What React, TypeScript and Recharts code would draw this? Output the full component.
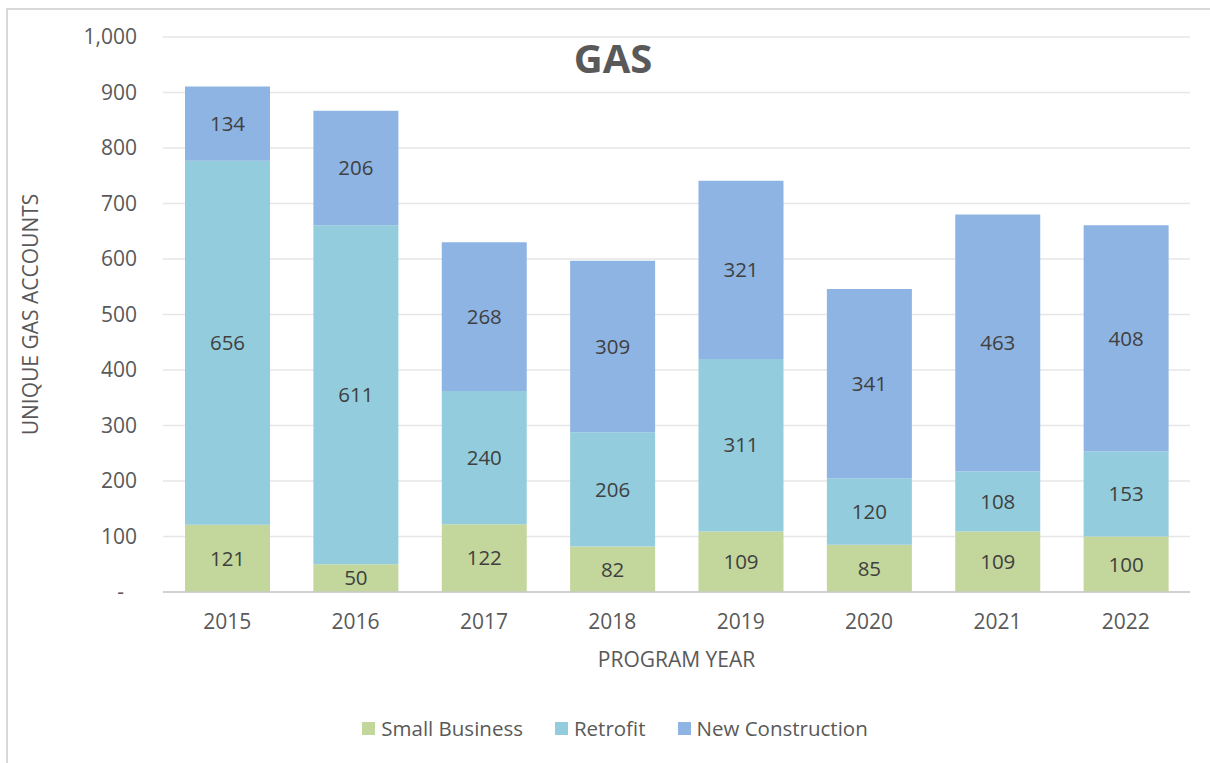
import {
  BarChart,
  Bar,
  XAxis,
  YAxis,
  CartesianGrid,
  LabelList,
  Legend
} from "recharts"

const years = ["2015", "2016", "2017", "2018", "2019", "2020", "2021", "2022"]
const smallBusiness = [121, 50, 122, 82, 109, 85, 109, 100]
const retrofit = [656, 611, 240, 206, 311, 120, 108, 153]
const newConstruction = [134, 206, 268, 309, 321, 341, 463, 408]
const yTicks = [0, 100, 200, 300, 400, 500, 600, 700, 800, 900, 1000]

const series = [
  { key: "smallBusiness", name: "Small Business", color: "#C3D69B" },
  { key: "retrofit", name: "Retrofit", color: "#93CDDD" },
  { key: "newConstruction", name: "New Construction", color: "#8EB4E3" },
]

const data = years.map((year, i) => ({
  year,
  smallBusiness: smallBusiness[i],
  retrofit: retrofit[i],
  newConstruction: newConstruction[i],
}))

const FONT = "'Open Sans', 'Noto Sans', sans-serif"

const YTick = ({ x, y, payload }: any) => {
  const v = payload.value
  if (v === 0) {
    return (
      <text x={x - 13} y={y} dy="0.35em" textAnchor="end" fill="#595959" fontSize={21} fontFamily={FONT}>
        -
      </text>
    )
  }
  return (
    <text x={x} y={y} dy="0.35em" textAnchor="end" fill="#595959" fontSize={21} fontFamily={FONT}>
      {v.toLocaleString("en-US")}
    </text>
  )
}

const LegendContent = () => (
  <div style={{ display: "flex", justifyContent: "center", alignItems: "center", fontFamily: FONT, fontSize: 20.5, color: "#595959" }}>
    {series.map((s) => (
      <div key={s.key} style={{ display: "flex", alignItems: "center", margin: "0 16px" }}>
        <span style={{ width: 13, height: 13, background: s.color, display: "inline-block", marginRight: 6 }} />
        <span>{s.name}</span>
      </div>
    ))}
  </div>
)

const App = () => {
  return (
    <div style={{ position: "fixed", left: 0, top: 0, width: 1210, height: 763, background: "#fff", overflow: "hidden" }}>
      {/* frame around chart */}
      <div style={{ position: "absolute", left: 6, top: 8, width: 1300, height: 900, border: "2px solid #d9d9d9" }} />
      <div
        style={{
          position: "absolute",
          left: 0,
          top: 30,
          width: 1210,
          textAlign: "center",
          fontFamily: FONT,
          fontSize: 40,
          fontWeight: 700,
          color: "#595959",
          paddingLeft: 8,
          lineHeight: "56px",
          zIndex: 2,
        }}
      >
        GAS
      </div>
      <div style={{ position: "absolute", left: 0, top: 0 }}>
        <BarChart
          width={1210}
          height={763}
          data={data}
          margin={{ top: 37, right: 20, left: 0, bottom: 61 }}
        >
          {/* Grid Lines */}
          <CartesianGrid vertical={false} stroke="#e6e6e6" strokeWidth={1.5} />
          <XAxis
            dataKey="year"
            height={80}
            tickSize={0}
            tickMargin={22}
            axisLine={{ stroke: "#c8c8c8", strokeWidth: 1.5 }}
            tick={{ fill: "#595959", fontSize: 21, fontFamily: FONT }}
            label={{
              value: "PROGRAM YEAR",
              position: "insideBottom",
              offset: 5,
              fill: "#595959",
              fontSize: 21,
              fontFamily: FONT,
            }}
          />
          <YAxis
            width={163}
            domain={[0, 1000]}
            ticks={yTicks}
            interval={0}
            tickSize={0}
            tickMargin={26}
            axisLine={false}
            tick={<YTick />}
            label={{
              value: "UNIQUE GAS ACCOUNTS",
              angle: -90,
              position: "insideLeft",
              offset: 31,
              style: { textAnchor: "middle" },
              fill: "#595959",
              fontSize: 21,
              fontFamily: FONT,
            }}
          />
          <Legend
            verticalAlign="bottom"
            wrapperStyle={{ height: 30, top: 714, bottom: "auto", left: 10, width: 1210 }}
            content={<LegendContent />}
          />
          {series.map((s) => (
            <Bar
              key={s.key}
              dataKey={s.key}
              name={s.name}
              stackId="a"
              fill={s.color}
              barSize={85}
              isAnimationActive={false}
            >
              <LabelList dataKey={s.key} position="center" fill="#404040" fontSize={20.5} fontFamily={FONT} />
            </Bar>
          ))}
        </BarChart>
      </div>
    </div>
  )
}

export default App
